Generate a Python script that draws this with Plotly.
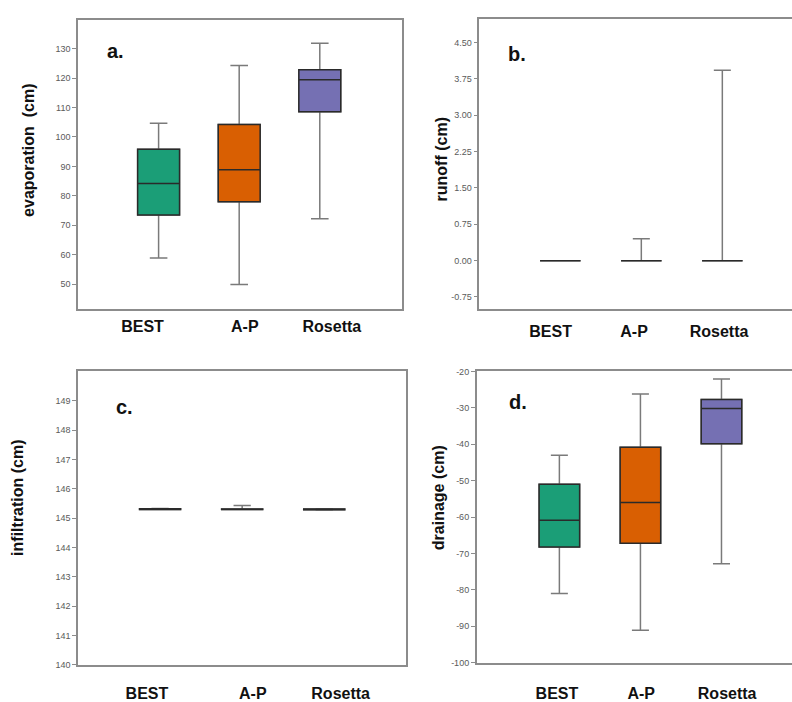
import plotly.graph_objects as go

# ---------------- data ----------------
categories = ["BEST", "A-P", "Rosetta"]
positions = [0, 1, 2]
colors = ["#1b9e77", "#d95f02", "#7570b3"]

# evaporation (cm)
evap_low = [58.9, 49.9, 72.2]
evap_q1 = [73.5, 78.0, 108.6]
evap_med = [84.2, 88.9, 119.4]
evap_q3 = [95.8, 104.2, 122.8]
evap_high = [104.7, 124.3, 131.8]

# runoff (cm)
run_low = [0.0, 0.0, 0.0]
run_q1 = [0.0, 0.0, 0.0]
run_med = [0.0, 0.0, 0.0]
run_q3 = [0.0, 0.0, 0.0]
run_high = [0.0, 0.45, 3.93]

# infiltration (cm)
inf_low = [145.30, 145.30, 145.28]
inf_q1 = [145.30, 145.30, 145.29]
inf_med = [145.31, 145.30, 145.30]
inf_q3 = [145.32, 145.31, 145.31]
inf_high = [145.33, 145.43, 145.32]

# drainage (cm)
dr_low = [-81.0, -91.1, -72.8]
dr_q1 = [-68.2, -67.2, -39.9]
dr_med = [-60.9, -56.0, -30.2]
dr_q3 = [-51.0, -40.8, -27.7]
dr_high = [-43.0, -26.2, -22.1]

evap_ticks = [50, 60, 70, 80, 90, 100, 110, 120, 130]
run_ticks = [-0.75, 0.0, 0.75, 1.50, 2.25, 3.00, 3.75, 4.50]
inf_ticks = [140, 141, 142, 143, 144, 145, 146, 147, 148, 149]
dr_ticks = [-100, -90, -80, -70, -60, -50, -40, -30, -20]

W, H = 792, 702
fig = go.Figure()

panels = [
    ("a", (evap_low, evap_q1, evap_med, evap_q3, evap_high), "x", "y", 0.52),
    ("b", (run_low, run_q1, run_med, run_q3, run_high), "x2", "y2", 0.5),
    ("c", (inf_low, inf_q1, inf_med, inf_q3, inf_high), "x3", "y3", 0.5),
    ("d", (dr_low, dr_q1, dr_med, dr_q3, dr_high), "x4", "y4", 0.5),
]

for name, (lo, q1, med, q3, hi), xa, ya, bw in panels:
    for i in range(3):
        # whiskers (grey)
        fig.add_trace(go.Box(
            x=[positions[i]], q1=[q1[i]], median=[med[i]], q3=[q3[i]],
            lowerfence=[lo[i]], upperfence=[hi[i]],
            width=bw, whiskerwidth=0.42, fillcolor=colors[i],
            line=dict(color="#7a7a7a", width=1.5),
            boxpoints=False, showlegend=False, hoverinfo="skip",
            xaxis=xa, yaxis=ya))
        # box outline + median (dark)
        fig.add_trace(go.Box(
            x=[positions[i]], q1=[q1[i]], median=[med[i]], q3=[q3[i]],
            lowerfence=[q1[i]], upperfence=[q3[i]],
            width=bw, whiskerwidth=0, fillcolor=colors[i],
            line=dict(color="#2a2a2a", width=1.5),
            boxpoints=False, showlegend=False, hoverinfo="skip",
            xaxis=xa, yaxis=ya))


def px_x(p):
    return p / W


def px_y(p):
    return 1 - p / H


axis_line = dict(showline=True, linecolor="#8c8c8c", linewidth=1.5,
                 showgrid=False, zeroline=False)
ytick = dict(ticks="outside", ticklen=4, tickcolor="#8c8c8c", tickwidth=1,
             tickfont=dict(family="Liberation Sans, Arial", size=9, color="#5a5a5a"))
xtick = dict(ticks="", tickfont=dict(family="Liberation Sans, Arial", size=16,
                                     color="#111111", weight="bold"))

layout = dict(
    width=W, height=H, margin=dict(l=0, r=0, t=0, b=0),
    paper_bgcolor="white", plot_bgcolor="white", boxmode="overlay",
    showlegend=False,
)

# panel a
layout["xaxis"] = dict(domain=[px_x(78), px_x(402)], range=[-1.0, 3.02], anchor="y",
                       mirror=True, tickvals=[-0.2, 1.07, 2.15], ticktext=categories,
                       ticklabelstandoff=2, **axis_line, **xtick)
layout["yaxis"] = dict(domain=[px_y(308), px_y(15)], range=[41.7, 139.8], anchor="x",
                       mirror=True, tickvals=evap_ticks, ticktext=[str(v) for v in evap_ticks],
                       **axis_line, **ytick)
# panel b
layout["xaxis2"] = dict(domain=[px_x(479.3), 1.0], range=[-1.0, 2.86], anchor="y2",
                        mirror=True, tickvals=[-0.12, 0.91, 1.96], ticktext=categories,
                        ticklabelstandoff=7, **axis_line, **xtick)
layout["yaxis2"] = dict(domain=[px_y(308), px_y(14)], range=[-0.99, 4.99], anchor="x2",
                        mirror=False, tickvals=run_ticks, ticktext=[f"{v:.2f}" for v in run_ticks],
                        **axis_line, **ytick)
# panel c
layout["xaxis3"] = dict(domain=[px_x(78), px_x(405.5)], range=[-1.0, 2.99], anchor="y3",
                        mirror=True, tickvals=[-0.16, 1.13, 2.2], ticktext=categories,
                        ticklabelstandoff=13, **axis_line, **xtick)
layout["yaxis3"] = dict(domain=[px_y(669.3), px_y(371)], range=[140, 150.03], anchor="x3",
                        mirror=True, tickvals=inf_ticks, ticktext=[str(v) for v in inf_ticks],
                        **axis_line, **ytick)
# panel d
layout["xaxis4"] = dict(domain=[px_x(476.7), 1.0], range=[-1.02, 2.87], anchor="y4",
                        mirror=True, tickvals=[-0.03, 1.01, 2.07], ticktext=categories,
                        ticklabelstandoff=15, **axis_line, **xtick)
layout["yaxis4"] = dict(domain=[px_y(667.2), px_y(371.7)], range=[-100, -20], anchor="x4",
                        mirror=False, tickvals=dr_ticks, ticktext=[str(v) for v in dr_ticks],
                        **axis_line, **ytick)

fig.update_layout(**layout)

title_font = dict(family="Liberation Sans, Arial", size=16, color="#111111", weight="bold")
letter_font = dict(family="Liberation Sans, Arial", size=20, color="#111111", weight="bold")

ann = [
    ("evaporation  (cm)", 29, 148, -90, title_font),
    ("runoff (cm)", 441.7, 157, -90, title_font),
    ("infiltration (cm)", 18, 500, -90, title_font),
    ("drainage (cm)", 439.3, 500, -90, title_font),
    ("a.", 115, 47, 0, letter_font),
    ("b.", 516.7, 50, 0, letter_font),
    ("c.", 124, 408, 0, letter_font),
    ("d.", 517.7, 403, 0, letter_font),
]
for text, x, y, ang, f in ann:
    fig.add_annotation(text=text, x=px_x(x), y=px_y(y), xref="paper", yref="paper",
                       xanchor="center", yanchor="middle", showarrow=False,
                       textangle=ang, font=f)

fig.write_html("out.html", config={"displayModeBar": False},
               post_script="document.body.style.margin='0px';")
